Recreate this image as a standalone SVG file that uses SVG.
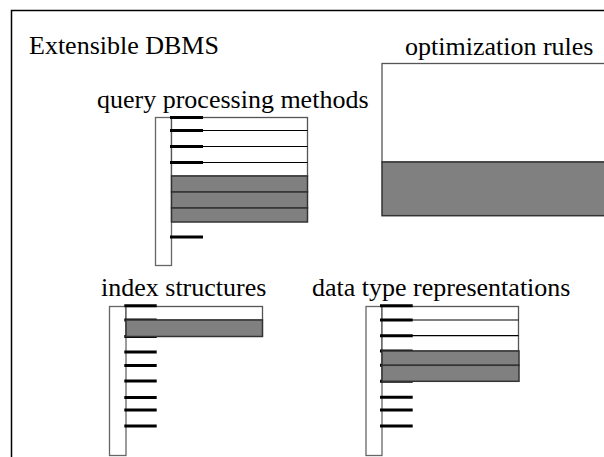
<svg xmlns="http://www.w3.org/2000/svg" width="604" height="457" viewBox="0 0 604 457">
<style>
text{font-family:'Liberation Serif','Times New Roman',serif;font-size:26px;fill:#000}
.col{fill:#fff;stroke:#666;stroke-width:1.3}
.box{fill:#fff;stroke:#555;stroke-width:1.3}
.gray{fill:#808080;stroke:#333;stroke-width:1.5}
.ln{stroke:#000;stroke-width:1.2}
.tk{stroke:#000;stroke-width:3}
</style>
<rect width="604" height="457" fill="#fff"/>
<rect x="11.5" y="10.5" width="700" height="500" fill="none" stroke="#000" stroke-width="1.5"/>
<text x="29" y="54">Extensible DBMS</text>

<g id="optimization-rules">
<text x="405" y="55">optimization rules</text>
<rect class="box" x="382" y="63.5" width="240" height="98.5"/>
<rect class="gray" x="382" y="162" width="240" height="53.7"/>
</g>

<g id="query-processing-methods">
<text x="97" y="108">query processing methods</text>
<rect class="col" x="155.5" y="117.5" width="16" height="148"/>
<rect class="box" x="171.5" y="117.5" width="136" height="58.5"/>
<line class="ln" x1="171.5" y1="130.5" x2="307.5" y2="130.5"/>
<line class="ln" x1="171.5" y1="146.5" x2="307.5" y2="146.5"/>
<line class="ln" x1="171.5" y1="162.5" x2="307.5" y2="162.5"/>
<line class="tk" x1="170" y1="117.5" x2="203" y2="117.5"/>
<line class="tk" x1="170" y1="130.5" x2="203" y2="130.5"/>
<line class="tk" x1="170" y1="146.5" x2="203" y2="146.5"/>
<line class="tk" x1="170" y1="162.5" x2="203" y2="162.5"/>
<line class="tk" x1="170" y1="237" x2="203" y2="237"/>
<rect class="gray" x="171.5" y="176" width="136" height="16"/>
<rect class="gray" x="171.5" y="192" width="136" height="16"/>
<rect class="gray" x="171.5" y="208" width="136" height="14"/>
</g>

<g id="index-structures">
<text x="101" y="296">index structures</text>
<rect class="col" x="109.5" y="306.5" width="16.5" height="149"/>
<rect class="box" x="126" y="306.5" width="136.5" height="13.5"/>
<line class="tk" x1="124.3" y1="305.7" x2="156.7" y2="305.7"/>
<line class="tk" x1="124.3" y1="320" x2="156.7" y2="320"/>
<line class="tk" x1="124.3" y1="336.5" x2="156.7" y2="336.5"/>
<line class="tk" x1="124.3" y1="352" x2="156.7" y2="352"/>
<line class="tk" x1="124.3" y1="365.5" x2="156.7" y2="365.5"/>
<line class="tk" x1="124.3" y1="381" x2="156.7" y2="381"/>
<line class="tk" x1="124.3" y1="397.5" x2="156.7" y2="397.5"/>
<line class="tk" x1="124.3" y1="410" x2="156.7" y2="410"/>
<line class="tk" x1="124.3" y1="426" x2="156.7" y2="426"/>
<rect class="gray" x="126" y="320" width="136.5" height="16.5"/>
</g>

<g id="data-type-representations">
<text x="312" y="296">data type representations</text>
<rect class="col" x="366" y="306.5" width="16" height="149"/>
<rect class="box" x="382" y="306.5" width="136.5" height="44.5"/>
<line class="ln" x1="382" y1="320" x2="518.5" y2="320"/>
<line class="ln" x1="382" y1="335.7" x2="518.5" y2="335.7"/>
<line class="tk" x1="380" y1="305.7" x2="412.7" y2="305.7"/>
<line class="tk" x1="380" y1="320" x2="412.7" y2="320"/>
<line class="tk" x1="380" y1="335.7" x2="412.7" y2="335.7"/>
<line class="tk" x1="380" y1="351" x2="412.7" y2="351"/>
<line class="tk" x1="380" y1="365.3" x2="412.7" y2="365.3"/>
<line class="tk" x1="380" y1="381.3" x2="412.7" y2="381.3"/>
<line class="tk" x1="380" y1="397.3" x2="412.7" y2="397.3"/>
<line class="tk" x1="380" y1="410" x2="412.7" y2="410"/>
<line class="tk" x1="380" y1="426" x2="412.7" y2="426"/>
<rect class="gray" x="382" y="351" width="137" height="14.3"/>
<rect class="gray" x="382" y="365.3" width="137" height="16"/>
</g>
<g id="connectors"/>
</svg>
